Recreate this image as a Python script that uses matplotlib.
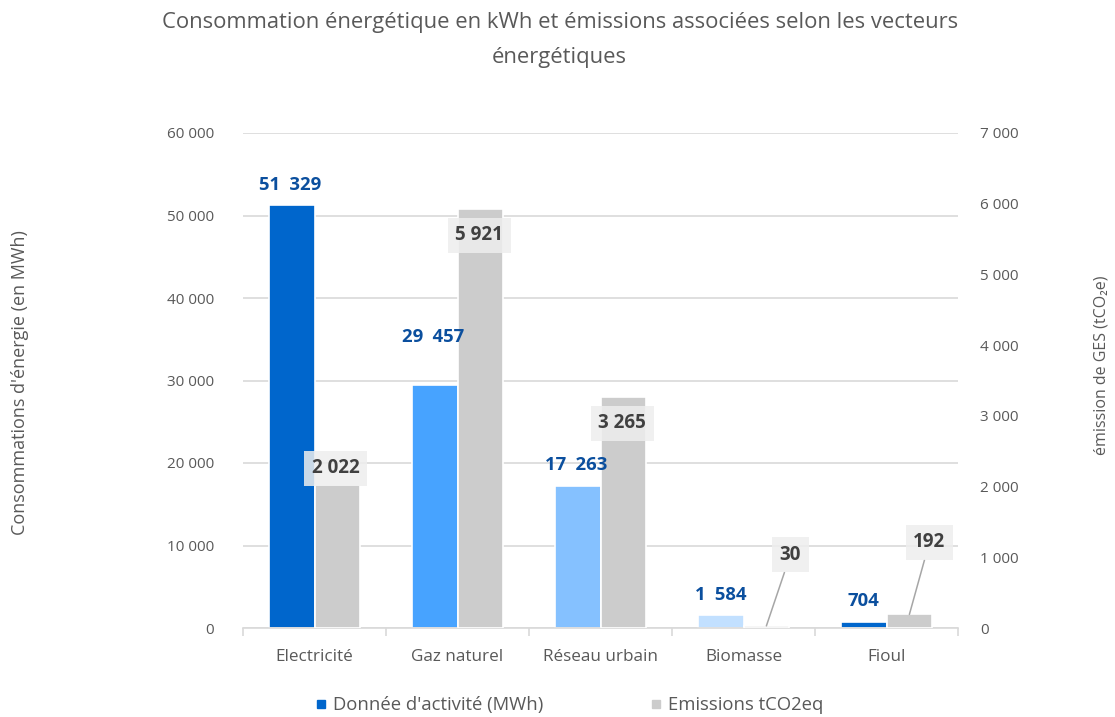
import matplotlib
matplotlib.use("Agg")
import matplotlib.pyplot as plt
import numpy as np
from matplotlib.lines import Line2D
from matplotlib.ticker import FuncFormatter, FixedLocator

plt.rcParams['font.family'] = ['Open Sans', 'DejaVu Sans']

categories = ["Electricité", "Gaz naturel", "Réseau urbain", "Biomasse", "Fioul"]
conso_mwh = [51329, 29457, 17263, 1584, 704]
emissions_t = [2022, 5921, 3265, 30, 192]
blue_colors = ["#0066CC", "#47A3FF", "#85C1FF", "#C2E0FF", "#0066CC"]

# label offsets in pixels from bar top (dx, dy)
blue_offsets = [(-1, 20), (-1, 48), (-1, 21), (0, 20), (0, 21)]
gray_offsets = [(-2, 17), (-1, -26), (-1, -26), (24, 71), (20, 72)]

GRID = "#D9D9D9"
TXT = "#595959"


def fmt(v, pos=None, sep=" "):
    return f"{int(round(v)):,}".replace(",", sep)


fig = plt.figure(figsize=(11.15, 7.17), dpi=100)
ax = fig.add_axes([243 / 1115, 1 - 628 / 717, 715 / 1115, 495 / 717])
ax2 = ax.twinx()

x = np.arange(len(categories))
w = 0.32
ax.bar(x - w / 2, conso_mwh, w, color=blue_colors, edgecolor="white", linewidth=1.2, zorder=2)
ax2.bar(x + w / 2, emissions_t, w, color="#CCCCCC", edgecolor="white", linewidth=1.2, zorder=2)

ax.set_ylim(0, 60000)
ax2.set_ylim(0, 7000)
ax.set_xlim(-0.5, 4.5)
ax.yaxis.set_major_locator(FixedLocator(np.arange(0, 60001, 10000)))
ax2.yaxis.set_major_locator(FixedLocator(np.arange(0, 7001, 1000)))
ax.yaxis.set_major_formatter(FuncFormatter(fmt))
ax2.yaxis.set_major_formatter(FuncFormatter(fmt))

ax.grid(axis="y", color=GRID, linewidth=1.2, zorder=0)
ax.set_axisbelow(True)
for s in ["top", "left", "right"]:
    ax.spines[s].set_visible(False)
    ax2.spines[s].set_visible(False)
ax2.spines["bottom"].set_visible(False)
ax.spines["bottom"].set_color(GRID)
ax.spines["bottom"].set_linewidth(1.2)

ax.set_xticks(x)
ax.set_xticklabels(categories)
ax.set_xticks(np.arange(-0.5, 5, 1), minor=True)
ax.tick_params(axis="x", which="major", length=0, pad=15, labelsize=12.3, labelcolor=TXT)
ax.tick_params(axis="x", which="minor", length=6, color=GRID, width=1.2)
ax.tick_params(axis="y", length=0, pad=21, labelsize=11, labelcolor=TXT)
ax2.tick_params(axis="y", length=0, pad=16, labelsize=11, labelcolor=TXT)

ax.set_ylabel("Consommations d'énergie (en MWh)", fontsize=13, color=TXT)
ax.yaxis.set_label_coords(-0.299, 0.495)
ax2.set_ylabel("émission de GES (tCO₂e)", fontsize=11.5, color=TXT, rotation=90)
ax2.yaxis.set_label_coords(1.189, 0.531)

# blue labels (drawn on top axes so they sit above the gray bars)
for xi, v, (dx, dy) in zip(x, conso_mwh, blue_offsets):
    ax2.annotate(fmt(v, sep="\u2002"), xy=(xi - w / 2, v), xycoords=ax.transData,
                 xytext=(dx, dy), textcoords="offset pixels",
                 ha="center", va="center", fontsize=13.3, fontweight="bold",
                 color="#0B4F9E", zorder=5)

for i, (xi, v, (dx, dy)) in enumerate(zip(x, emissions_t, gray_offsets)):
    arrow = None
    if i >= 3:
        arrow = dict(arrowstyle="-", color="#A6A6A6", lw=1.1, shrinkA=0, shrinkB=0)
    ax2.annotate(fmt(v), xy=(xi + w / 2, v), xytext=(dx, dy), textcoords="offset pixels",
                 ha="center", va="center", fontsize=13.5, fontweight="bold",
                 color="#404040", zorder=6,
                 bbox=dict(boxstyle="square,pad=0.4", fc="#EEEEEE", ec="none", alpha=0.85),
                 arrowprops=arrow)

fig.text(0.502, 1 - 12 / 717,
         "Consommation énergétique en kWh et émissions associées selon les vecteurs\nénergétiques",
         ha="center", va="top", fontsize=15.8, color=TXT, linespacing=1.85)

handles = [Line2D([], [], marker="s", linestyle="none", markersize=6, color="#0066CC"),
           Line2D([], [], marker="s", linestyle="none", markersize=6, color="#CCCCCC")]
fig.legend(handles, ["Donnée d'activité (MWh)", "Emissions tCO2eq"], loc="center",
           bbox_to_anchor=(0.511, 1 - 705 / 717), ncol=2, frameon=False,
           fontsize=13.3, labelcolor=TXT, handlelength=0.6, handletextpad=0.35,
           columnspacing=5.8, borderpad=0.1)

fig.savefig("out.png", dpi=100)
